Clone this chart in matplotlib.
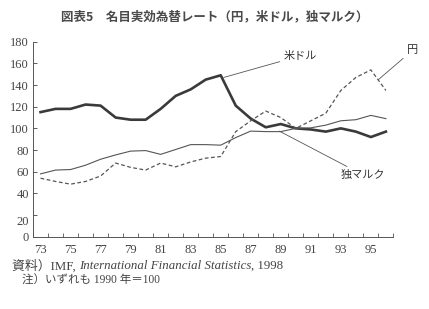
"""
Nominal effective exchange rates (yen, US dollar, DM), 1990 = 100
"""

import matplotlib
matplotlib.use("Agg")
import matplotlib.pyplot as plt
from matplotlib.transforms import ScaledTranslation

plt.rcParams['font.family'] = ['Liberation Serif', 'Noto Sans CJK JP']

# ==================== data ====================

years = list(range(73, 97))
usd = [115, 118, 118, 122, 121, 110, 108, 108, 118, 130, 136, 145, 149,
       121, 109, 101, 104, 100, 99, 97, 100, 97, 92, 97]
yen = [54, 51, 48.5, 51, 56, 68, 64, 61.5, 68, 64.5, 69, 72.5, 74,
       97, 107, 116, 110, 100, 107, 114, 135, 147, 154, 135]
dem = [58, 61.5, 62, 66, 71.5, 75.5, 79, 79.5, 76, 80.5, 85, 85, 84.5,
       91.5, 97.5, 97, 97, 100, 100.5, 103, 107, 108, 112, 109]
xlabels = [str(y) for y in range(73, 97, 2)]
yticks = [0, 20, 40, 60, 80, 100, 120, 140, 160, 180]

title = "図表5　名目実効為替レート（円，米ドル，独マルク）"

# ==================== plot ====================

fig = plt.figure(figsize=(4.29, 3.09), dpi=100)
ax = fig.add_axes([0.077, 0.234, 0.84, 0.631])

ax.plot(years, usd, color="#3a3a3a", lw=1.9, solid_joinstyle="round")
ax.plot(years, dem, color="#555555", lw=0.8)
ax.plot(years, yen, color="#555555", lw=0.9, dashes=(3, 2))

ax.set_xlim(72.5, 96.5)
ax.set_ylim(0, 180)
ax.set_yticks(yticks)
ax.set_xticks(range(73, 97, 2))
ax.set_xticklabels(xlabels)
ax.set_xticks([y + 0.5 for y in range(72, 97)], minor=True)
ax.tick_params(axis="x", which="major", length=0, pad=5, labelsize=9, colors="#444444")
ax.tick_params(axis="x", which="minor", direction="in", length=3, width=0.6, color="#555555")
ax.tick_params(axis="y", direction="in", length=3, width=0.6, pad=3, labelsize=9,
               colors="#444444")
for s in ["top", "right"]:
    ax.spines[s].set_visible(False)
for s in ["left", "bottom"]:
    ax.spines[s].set_linewidth(0.7)
    ax.spines[s].set_color("#555555")

# the "20" label sits a little below its tick in the original
lab20 = ax.yaxis.get_major_ticks()[1].label1
lab20.set_transform(lab20.get_transform() + ScaledTranslation(0, -4 / 72, fig.dpi_scale_trans))

# labels with leader lines
jp = ['Noto Sans CJK JP']
ax.annotate("米ドル", xy=(85.2, 147), xytext=(89.2, 167), fontsize=8, family=jp, color="#333333",
            va="center", arrowprops=dict(arrowstyle="-", lw=0.6, color="#555555", shrinkA=1, shrinkB=0))
ax.annotate("円", xy=(95.5, 145), xytext=(97.4, 172), fontsize=8, family=jp, color="#333333",
            va="center", annotation_clip=False,
            arrowprops=dict(arrowstyle="-", lw=0.6, color="#555555", shrinkA=1, shrinkB=0))
ax.annotate("独マルク", xy=(88.9, 97.5), xytext=(93, 57), fontsize=8, family=jp, color="#333333",
            va="center", arrowprops=dict(arrowstyle="-", lw=0.6, color="#555555", shrinkA=1, shrinkB=0))

fig.text(0.5, 0.945, title, ha="center", va="center", fontsize=9, family=jp,
         weight="bold", color="#4a4a4a")

# source notes, pieced together so the title part can be italic
renderer = fig.canvas.get_renderer()
x = 12
parts = [("資料）IMF, ", "normal"), ("International Financial Statistics", "italic"),
         (", 1998", "normal")]
for txt, style in parts:
    t = fig.text(x / 429, 1 - 266 / 309, txt, fontsize=9.3, style=style, va="center",
                 color="#444444")
    x += t.get_window_extent(renderer).width
fig.text(22 / 429, 1 - 281 / 309, "注）いずれも 1990 年＝100", fontsize=8.3, va="center",
         color="#444444")

fig.savefig("out.png", dpi=100)
